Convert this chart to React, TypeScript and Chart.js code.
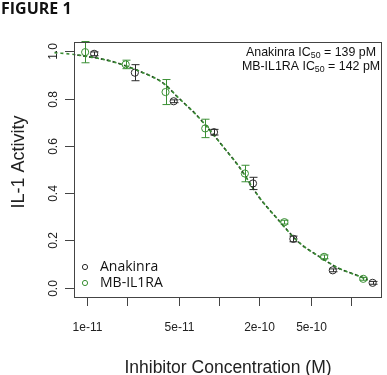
import React, { useEffect, useRef } from "react";
import { Chart, registerables } from "chart.js";

Chart.register(...registerables);

const xTicks = [1e-11, 2e-11, 5e-11, 1e-10, 2e-10, 5e-10, 1e-9];
const xTickLabels = ["1e-11", "", "5e-11", "", "2e-10", "5e-10", ""];
const yTicks = [0, 0.2, 0.4, 0.6, 0.8, 1.0];
const yTickLabels = ["0.0", "0.2", "0.4", "0.6", "0.8", "1.0"];

const anakinraConc = [1.13e-11, 2.3e-11, 4.53e-11, 9.16e-11, 1.81e-10, 3.66e-10, 7.28e-10, 1.46e-9];
const anakinraVal = [0.99, 0.91, 0.789, 0.658, 0.441, 0.206, 0.073, 0.02];
const anakinraErr = [0.008, 0.034, 0.006, 0.012, 0.026, 0.012, 0.006, 0.006];

const mbConc = [9.66e-12, 1.96e-11, 3.93e-11, 7.86e-11, 1.57e-10, 3.13e-10, 6.26e-10, 1.24e-9];
const mbVal = [0.997, 0.945, 0.828, 0.674, 0.483, 0.277, 0.13, 0.037];
const mbErr = [0.045, 0.018, 0.053, 0.039, 0.035, 0.008, 0.008, 0.006];

const fitConcMB = [5.65e-12, 7.98e-12, 1.51e-11, 2.5e-11, 3.75e-11, 5.0e-11, 6.68e-11, 8.85e-11, 1.09e-10, 1.41e-10, 2.0e-10, 2.83e-10, 4.0e-10, 5.95e-10, 7.98e-10, 1.07e-9, 1.34e-9];
const fitMB = [0.995, 0.987, 0.959, 0.916, 0.867, 0.8, 0.733, 0.655, 0.592, 0.514, 0.385, 0.285, 0.193, 0.126, 0.083, 0.055, 0.034];
const fitConcAnakinra = [7.98e-12, 1.51e-11, 2.5e-11, 3.75e-11, 5.0e-11, 6.68e-11, 8.85e-11, 1.09e-10, 1.41e-10, 2.0e-10, 2.83e-10, 4.0e-10, 5.95e-10, 7.98e-10, 1.07e-9, 1.34e-9];
const fitAnakinra = [0.987, 0.959, 0.916, 0.867, 0.8, 0.733, 0.655, 0.592, 0.514, 0.385, 0.285, 0.193, 0.126, 0.083, 0.055, 0.034];

const GREEN = "#3a8f34";
const BLACK = "#2a2a2a";
const SANS = "'Liberation Sans', Arial, sans-serif";

const pts = (xs: number[], ys: number[]) => xs.map((x, i) => ({ x, y: ys[i] }));

const drawPlugin = {
  id: "rstyle",
  afterDraw(chart: any) {
    const ctx = chart.ctx as CanvasRenderingContext2D;
    const xs = chart.scales.x;
    const ys = chart.scales.y;
    const a = chart.chartArea;
    ctx.save();

    // error bars
    const drawErr = (conc: number[], val: number[], err: number[], color: string) => {
      ctx.strokeStyle = color;
      ctx.lineWidth = 1;
      conc.forEach((c, i) => {
        const px = Math.round(xs.getPixelForValue(c)) + 0.5;
        const t = ys.getPixelForValue(val[i] + err[i]);
        const b = ys.getPixelForValue(val[i] - err[i]);
        ctx.beginPath();
        ctx.moveTo(px, t);
        ctx.lineTo(px, b);
        ctx.moveTo(px - 4, t);
        ctx.lineTo(px + 4, t);
        ctx.moveTo(px - 4, b);
        ctx.lineTo(px + 4, b);
        ctx.stroke();
      });
    };
    drawErr(anakinraConc, anakinraVal, anakinraErr, BLACK);
    drawErr(mbConc, mbVal, mbErr, GREEN);

    // box
    ctx.strokeStyle = "#444";
    ctx.lineWidth = 1;
    ctx.strokeRect(a.left + 0.5, a.top + 0.5, a.right - a.left - 1, a.bottom - a.top);

    // y ticks
    ctx.fillStyle = "#222";
    ctx.font = `12px ${SANS}`;
    yTicks.forEach((v, i) => {
      const py = Math.round(ys.getPixelForValue(v)) + 0.5;
      ctx.beginPath();
      ctx.moveTo(a.left - 9, py);
      ctx.lineTo(a.left, py);
      ctx.stroke();
      ctx.save();
      ctx.translate(a.left - 20, py);
      ctx.rotate(-Math.PI / 2);
      ctx.textAlign = "center";
      ctx.textBaseline = "middle";
      ctx.fillText(yTickLabels[i], 0, 0);
      ctx.restore();
    });

    // x ticks
    xTicks.forEach((v, i) => {
      const px = Math.round(xs.getPixelForValue(v)) + 0.5;
      ctx.beginPath();
      ctx.moveTo(px, a.bottom);
      ctx.lineTo(px, a.bottom + 9);
      ctx.stroke();
      if (xTickLabels[i]) {
        ctx.textAlign = "center";
        ctx.textBaseline = "middle";
        ctx.fillText(xTickLabels[i], px, a.bottom + 31);
      }
    });

    // axis titles
    ctx.font = `17.5px ${SANS}`;
    ctx.textAlign = "center";
    ctx.textBaseline = "middle";
    ctx.fillText("Inhibitor Concentration (M)", (a.left + a.right) / 2, 368);
    ctx.save();
    ctx.translate(19, 162);
    ctx.rotate(-Math.PI / 2);
    ctx.font = `18px ${SANS}`;
    ctx.fillText("IL-1 Activity", 0, 0);
    ctx.restore();

    // figure label
    ctx.font = `bold 16px 'Open Sans', sans-serif`;
    ctx.textAlign = "left";
    ctx.fillStyle = "#111";
    ctx.fillText("FIGURE 1", 1, 9);

    // IC50 annotation
    const ann = (name: string, value: string, cx: number, cy: number) => {
      const big = `12.4px ${SANS}`;
      const small = `8.8px ${SANS}`;
      const p1 = `${name} IC`;
      const p3 = ` = ${value}`;
      ctx.font = big;
      const w1 = ctx.measureText(p1).width;
      const w3 = ctx.measureText(p3).width;
      ctx.font = small;
      const w2 = ctx.measureText("50").width;
      let x = cx - (w1 + w2 + w3) / 2;
      ctx.textAlign = "left";
      ctx.textBaseline = "middle";
      ctx.fillStyle = "#111";
      ctx.font = big;
      ctx.fillText(p1, x, cy);
      x += w1;
      ctx.font = small;
      ctx.fillText("50", x, cy + 3);
      x += w2;
      ctx.font = big;
      ctx.fillText(p3, x, cy);
    };
    ann("Anakinra", "139 pM", 311, 53);
    ann("MB-IL1RA", "142 pM", 311, 67);

    // legend
    const leg = (label: string, color: string, y: number) => {
      ctx.strokeStyle = color;
      ctx.lineWidth = 1;
      ctx.beginPath();
      ctx.arc(85, y, 2.6, 0, Math.PI * 2);
      ctx.stroke();
      ctx.fillStyle = "#111";
      ctx.font = `14px 'Open Sans', sans-serif`;
      ctx.textAlign = "left";
      ctx.textBaseline = "middle";
      ctx.fillText(label, 100, y);
    };
    leg("Anakinra", BLACK, 267);
    leg("MB-IL1RA", GREEN, 283);

    ctx.restore();
  },
};

export default function App() {
  const ref = useRef<HTMLCanvasElement | null>(null);
  useEffect(() => {
    document.body.style.margin = "0";
    if (!ref.current) return;
    const chart = new Chart(ref.current, {
      type: "scatter",
      data: {
        datasets: [
          {
            label: "MB-IL1RA fit",
            data: pts(fitConcMB, fitMB),
            showLine: true,
            borderColor: GREEN,
            borderWidth: 1.6,
            borderDash: [3, 3],
            pointRadius: 0,
            cubicInterpolationMode: "monotone",
            clip: false,
          } as any,
          {
            label: "Anakinra fit",
            data: pts(fitConcAnakinra, fitAnakinra),
            showLine: true,
            borderColor: "#1f3a1c",
            borderWidth: 1.6,
            borderDash: [3, 3],
            borderDashOffset: 3,
            pointRadius: 0,
            cubicInterpolationMode: "monotone",
          } as any,
          {
            label: "Anakinra",
            data: pts(anakinraConc, anakinraVal),
            showLine: false,
            pointRadius: 3.6,
            borderWidth: 1,
            borderColor: BLACK,
            backgroundColor: "rgba(0,0,0,0)",
          },
          {
            label: "MB-IL1RA",
            data: pts(mbConc, mbVal),
            showLine: false,
            pointRadius: 3.6,
            borderWidth: 1,
            borderColor: GREEN,
            backgroundColor: "rgba(0,0,0,0)",
          },
        ],
      },
      options: {
        responsive: false,
        animation: false,
        events: [],
        layout: { padding: { left: 74, top: 42, right: 3, bottom: 78 } },
        plugins: { legend: { display: false }, tooltip: { enabled: false }, title: { display: false } },
        scales: {
          x: { type: "logarithmic", min: 7.95e-12, max: 1.72e-9, display: false },
          y: { type: "linear", min: -0.04, max: 1.04, display: false },
        },
      },
      plugins: [drawPlugin],
    });
    return () => chart.destroy();
  }, []);
  return <canvas ref={ref} width={387} height={375} style={{ display: "block" }} />;
}
